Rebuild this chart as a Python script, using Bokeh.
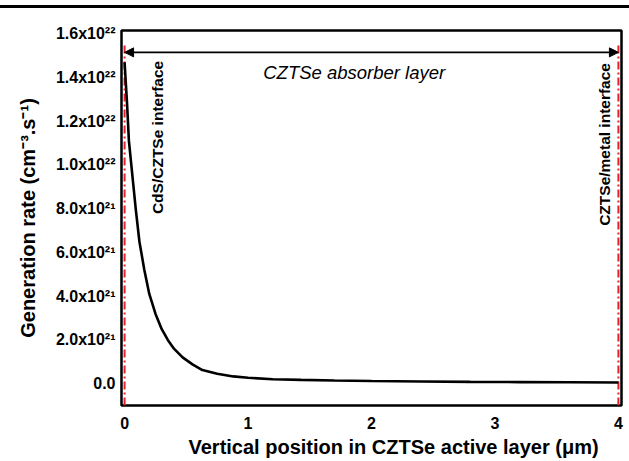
import numpy as np
from bokeh.plotting import figure
from bokeh.layouts import column
from bokeh.models import (Range1d, FixedTicker, Arrow, NormalHead, Title, Div,
                          ColumnDataSource)
from bokeh.core.properties import value
from bokeh.embed import file_html
from bokeh.resources import INLINE

# Generation rate profile through the CZTSe absorber
position_um = [0.0, 0.02, 0.035, 0.06, 0.09, 0.12, 0.16, 0.20, 0.25, 0.30,
               0.35, 0.40, 0.47, 0.55, 0.63, 0.75, 0.88, 1.0, 1.2, 1.43,
               1.7, 2.0, 2.4, 2.8, 3.2, 3.6, 4.0]
generation_1e21 = [14.7, 12.8, 11.1, 9.7, 8.0, 6.5, 5.2, 4.1, 3.2, 2.5,
                   2.0, 1.6, 1.2, 0.88, 0.62, 0.45, 0.33, 0.27, 0.20, 0.17,
                   0.14, 0.12, 0.10, 0.08, 0.07, 0.06, 0.05]
generation = [g * 1e21 for g in generation_1e21]

# Layer boundaries (CdS/CZTSe and CZTSe/metal interfaces)
layer_bounds = [0.0, 4.0]

x_ticks = [0, 1, 2, 3, 4]
y_ticks = [0, 2e21, 4e21, 6e21, 8e21, 1.0e22, 1.2e22, 1.4e22, 1.6e22]
y_tick_labels = ["0.0", "2.0x10\u00b2\u00b9", "4.0x10\u00b2\u00b9", "6.0x10\u00b2\u00b9",
                 "8.0x10\u00b2\u00b9", "1.0x10\u00b2\u00b2", "1.2x10\u00b2\u00b2",
                 "1.4x10\u00b2\u00b2", "1.6x10\u00b2\u00b2"]

FONT = "Liberation Sans"

p = figure(width=629, height=453, output_backend="svg", toolbar_location=None,
           x_range=Range1d(-0.025, 4.025), y_range=Range1d(-1.0e21, 1.615e22),
           min_border_left=121, min_border_right=8, min_border_top=22,
           min_border_bottom=56)
p.background_fill_color = "white"
p.border_fill_color = "white"
p.grid.visible = False
p.outline_line_color = "black"
p.outline_line_width = 2.5

for ax in (p.xaxis[0], p.yaxis[0]):
    ax.axis_line_color = None
    ax.major_tick_line_color = None
    ax.minor_tick_line_color = None
    ax.major_label_text_font = FONT
    ax.major_label_text_font_style = "bold"
    ax.major_label_text_font_size = "16px"
    ax.major_label_text_color = "black"

p.xaxis.ticker = FixedTicker(ticks=x_ticks)
p.xaxis.major_label_standoff = 5
p.yaxis.ticker = FixedTicker(ticks=y_ticks)
p.yaxis.major_label_overrides = {t: lab for t, lab in zip(y_ticks, y_tick_labels)}
p.yaxis.major_tick_out = 0
p.yaxis.major_tick_in = 0
p.yaxis.major_label_standoff = 6

p.yaxis.axis_label = "Generation rate (cm\u207b\u00b3.s\u207b\u00b9)"
p.yaxis.axis_label_text_font = FONT
p.yaxis.axis_label_text_font_style = "bold"
p.yaxis.axis_label_text_font_size = "20px"
p.yaxis.axis_label_text_color = "black"
p.yaxis.axis_label_standoff = 14

xlabel = Title(text="Vertical position in CZTSe active layer (\u03bcm)",
               align="left", offset=67, text_font=FONT, text_font_style="bold",
               text_font_size="20px", text_color="black", standoff=4)
p.add_layout(xlabel, "below")

# Interface markers
p.segment(x0=layer_bounds, x1=layer_bounds, y0=[-1.0e21] * 2, y1=[1.55e22] * 2,
          line_color="#e8202a", line_width=2, line_dash="8 3 2 3")

# Generation profile
src = ColumnDataSource(dict(x=position_um, y=generation))
p.line("x", "y", source=src, line_color="black", line_width=2.6)

# Absorber extent arrow
arrow_y = 1.515e22
p.add_layout(Arrow(x_start=layer_bounds[0], x_end=layer_bounds[1],
                   y_start=arrow_y, y_end=arrow_y, line_width=1.6,
                   start=NormalHead(size=9, fill_color="black", line_color="black"),
                   end=NormalHead(size=9, fill_color="black", line_color="black")))

p.text(x=[1.86], y=[1.423e22], text=["CZTSe absorber layer"],
       text_font=value(FONT), text_font_style="italic", text_font_size="18.5px",
       text_align="center", text_baseline="middle", text_color="black")

p.text(x=[0.267, 3.89], y=[1.126e22, 1.094e22],
       text=["CdS/CZTSe interface", "CZTSe/metal interface"],
       angle=np.pi / 2, text_font=value(FONT), text_font_style="bold",
       text_font_size="15.5px", text_align="center", text_baseline="middle",
       text_color="black")

top_rule = Div(text="", width=629, height=3, margin=(5, 0, 0, 0),
               styles={"background-color": "black"})

layout = column(top_rule, p, spacing=0)
open("out.html", "w").write(file_html(layout, INLINE))
